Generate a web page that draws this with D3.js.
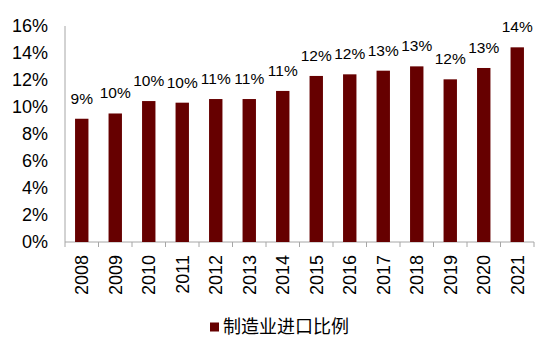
<!DOCTYPE html>
<html>
<head>
<meta charset="utf-8">
<script src="https://cdn.jsdelivr.net/npm/d3@7"></script>
<style>
  html, body { margin: 0; padding: 0; background: #fff; }
  svg { display: block; }
  text { font-family: "Liberation Sans", Arial, sans-serif; fill: #000; }
</style>
</head>
<body>
<svg id="chart" width="550" height="342"></svg>
<script>
// Manufacturing import share by year
const years = ["2008","2009","2010","2011","2012","2013","2014","2015","2016","2017","2018","2019","2020","2021"];
const shares = [0.0913, 0.0952, 0.1044, 0.1032, 0.1059, 0.1059, 0.1119, 0.1230, 0.1242, 0.1269, 0.1301, 0.1205, 0.1289, 0.1442];
const yTicks = [0, 0.02, 0.04, 0.06, 0.08, 0.10, 0.12, 0.14, 0.16];
const seriesName = "制造业进口比例";

const barColor = "#660000";
const axisColor = "#a6a6a6";

const svg = d3.select("#chart");
const margin = { left: 65, right: 16, top: 26, bottom: 100 };
const W = 550, H = 342;

const x = d3.scaleBand()
  .domain(years)
  .range([margin.left, W - margin.right])
  .paddingInner(0.6)
  .paddingOuter(0.3);

const y = d3.scaleLinear()
  .domain([0, 0.16])
  .range([H - margin.bottom, margin.top]);

const pct = d3.format(".0%");
const y0 = y(0);

// Y axis: line only, labels on the left
svg.append("line")
  .attr("x1", margin.left).attr("x2", margin.left)
  .attr("y1", y(0.16)).attr("y2", y0)
  .attr("stroke", axisColor).attr("stroke-width", 1);

svg.append("g")
  .selectAll("text")
  .data(yTicks)
  .join("text")
  .attr("x", margin.left - 17)
  .attr("y", d => y(d))
  .attr("dy", "0.35em")
  .attr("text-anchor", "end")
  .style("font-size", "18px")
  .text(d => pct(d));

// X axis line with ticks at category boundaries
const xStart = x.range()[0], xEnd = x.range()[1];
svg.append("line")
  .attr("x1", xStart).attr("x2", xEnd)
  .attr("y1", y0).attr("y2", y0)
  .attr("stroke", axisColor).attr("stroke-width", 1);

const boundaries = d3.range(years.length + 1).map(i => xStart + i * (xEnd - xStart) / years.length);
svg.append("g")
  .selectAll("line")
  .data(boundaries)
  .join("line")
  .attr("x1", d => d).attr("x2", d => d)
  .attr("y1", y0).attr("y2", y0 + 5)
  .attr("stroke", axisColor).attr("stroke-width", 1);

// Bars
svg.append("g")
  .selectAll("rect")
  .data(years)
  .join("rect")
  .attr("x", d => x(d))
  .attr("width", x.bandwidth())
  .attr("y", (d, i) => y(shares[i]))
  .attr("height", (d, i) => y0 - y(shares[i]))
  .attr("fill", barColor);

// Value labels
svg.append("g")
  .selectAll("text")
  .data(years)
  .join("text")
  .attr("x", d => x(d) + x.bandwidth() / 2)
  .attr("y", (d, i) => y(shares[i]) - 15)
  .attr("text-anchor", "middle")
  .style("font-size", "15.5px")
  .text((d, i) => pct(shares[i]));

// Year labels, rotated
svg.append("g")
  .selectAll("text")
  .data(years)
  .join("text")
  .attr("transform", d => `translate(${x(d) + x.bandwidth() / 2},${y0 + 13}) rotate(-90)`)
  .attr("dy", "0.35em")
  .attr("text-anchor", "end")
  .style("font-size", "18px")
  .text(d => d);

// Legend
const legend = svg.append("g").attr("transform", "translate(210,327)");
legend.append("rect")
  .attr("x", 0).attr("y", -4.5)
  .attr("width", 9).attr("height", 9)
  .attr("fill", barColor);
legend.append("text")
  .attr("x", 13).attr("y", 0)
  .attr("dy", "0.36em")
  .style("font-family", "'Noto Sans CJK SC', sans-serif")
  .style("font-size", "18px")
  .text(seriesName);
</script>
</body>
</html>
